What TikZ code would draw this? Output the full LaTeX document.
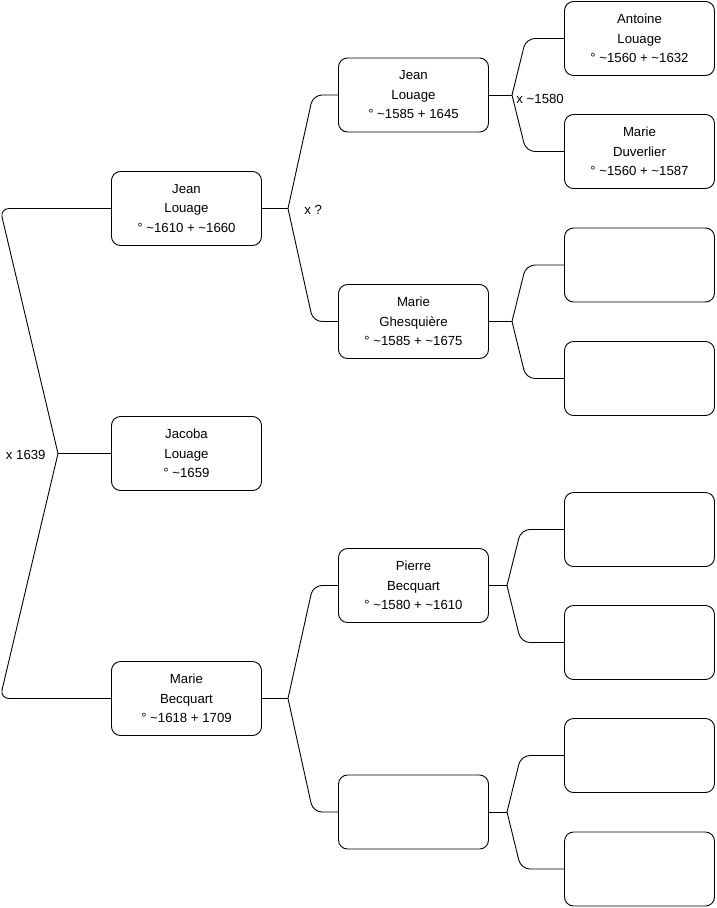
\documentclass[tikz,border=0pt]{standalone}
\usepackage{fontspec}
\setmainfont{Liberation Sans}
\begin{document}
\begin{tikzpicture}[
x=1pt,y=-1pt,
line width=0.9pt,
every node/.style={font=\fontsize{13.2}{19.5}\selectfont},
person/.style={draw,rounded corners=9pt,minimum width=150pt,minimum height=74pt,align=center,inner sep=0pt},
link/.style={rounded corners=9pt},
mariage/.style={inner sep=0pt}
]
\useasboundingbox (0,0) rectangle (716,908);
% generation 1
\node[person] (1) at (186.5,453.5) {Jacoba\\Louage\\° \textasciitilde1659};
% generation 2
\node[person] (2) at (186.5,208.5) {Jean\\Louage\\° \textasciitilde1610 + \textasciitilde1660};
\node[person] (3) at (186.5,698.5) {Marie\\Becquart\\° \textasciitilde1618 + 1709};
% generation 3
\node[person] (4) at (413.5,95) {Jean\\Louage\\° \textasciitilde1585 + 1645};
\node[person] (5) at (413.5,321.5) {Marie\\Ghesquière\\° \textasciitilde1585 + \textasciitilde1675};
\node[person] (6) at (413.5,585.5) {Pierre\\Becquart\\° \textasciitilde1580 + \textasciitilde1610};
\node[person] (7) at (413.5,812) {};
% generation 4
\node[person] (8) at (639.5,38.5) {Antoine\\Louage\\° \textasciitilde1560 + \textasciitilde1632};
\node[person] (9) at (639.5,151.5) {Marie\\Duverlier\\° \textasciitilde1560 + \textasciitilde1587};
\node[person] (10) at (639.5,265) {};
\node[person] (11) at (639.5,378.5) {};
\node[person] (12) at (639.5,529.5) {};
\node[person] (13) at (639.5,642.5) {};
\node[person] (14) at (639.5,755.5) {};
\node[person] (15) at (639.5,869) {};

% junctions
\coordinate (j1) at (58,453.5);
\coordinate (j2) at (288,208.5);
\coordinate (j3) at (288,698.5);
\coordinate (j4) at (512,95);
\coordinate (j5) at (512,321.5);
\coordinate (j6) at (507,585.5);
\coordinate (j7) at (507,812);

% parents of 1
\draw[link] (j1) -- ([xshift=-58pt]j1 |- 2) -- (2.west);
\draw[link] (j1) -- ([xshift=-58pt]j1 |- 3) -- (3.west);
\draw (j1) -- (1.west);
\node[mariage,anchor=east] at ([xshift=-12pt,yshift=-1pt]j1) {x 1639};

% parents of 2 and 3
\foreach \c/\f/\m in {2/4/5,3/6/7}{
  \draw (\c.east) -- (j\c);
  \draw[link] (j\c) -- ([xshift=25pt]j\c |- \f) -- (\f.west);
  \draw[link] (j\c) -- ([xshift=25pt]j\c |- \m) -- (\m.west);
}
\node[mariage,anchor=west] at ([xshift=16pt,yshift=-1pt]j2) {x ?};

% parents of 4 to 7
\foreach \c/\f/\m in {4/8/9,5/10/11,6/12/13,7/14/15}{
  \draw (\c.east) -- (j\c);
  \draw[link] (j\c) -- ([xshift=14pt]j\c |- \f) -- (\f.west);
  \draw[link] (j\c) -- ([xshift=14pt]j\c |- \m) -- (\m.west);
}
\node[mariage,anchor=west] at ([xshift=4pt,yshift=-4pt]j4) {x \textasciitilde1580};
\end{tikzpicture}
\end{document}
